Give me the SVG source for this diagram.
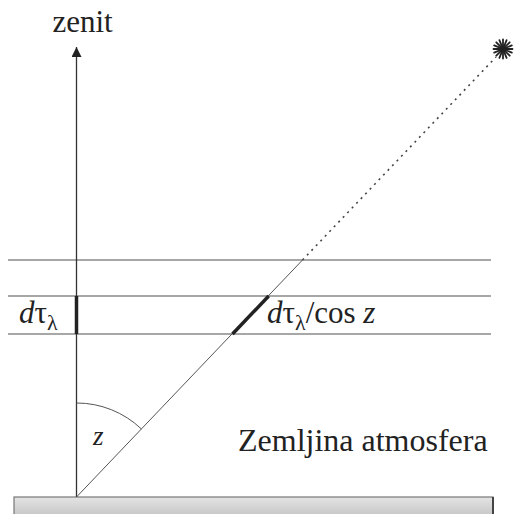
<svg xmlns="http://www.w3.org/2000/svg" width="514" height="514" viewBox="0 0 514 514">
<style>
text{font-family:'Liberation Serif','Times New Roman',serif;fill:#222}
.i{font-style:italic}
.h{stroke:#8a8a8a;stroke-width:1.3;fill:none}
.thin{stroke:#555;stroke-width:1;fill:none}
.thick{stroke:#222;stroke-width:3.5;fill:none}
</style>
<defs>
<linearGradient id="g" x1="0" y1="0" x2="0" y2="1">
<stop offset="0" stop-color="#e4e4e4"/>
<stop offset="1" stop-color="#c4c4c4"/>
</linearGradient>
<marker id="arr" viewBox="0 0 10 10" refX="10" refY="5" markerWidth="10" markerHeight="10" markerUnits="userSpaceOnUse" orient="auto">
<path d="M0,0 L10,5 L0,10 Z" fill="#222"/>
</marker>
</defs>
<g id="ground">
<rect x="14" y="497" width="479" height="20" fill="url(#g)" stroke="#777" stroke-width="1.2"/>
<line x1="493" y1="497" x2="493" y2="514" stroke="#444" stroke-width="2"/>
</g>
<g id="layers">
<line class="h" x1="8" y1="260" x2="491" y2="260"/>
<line class="h" x1="8" y1="296" x2="491" y2="296"/>
<line class="h" x1="8" y1="334" x2="491" y2="334"/>
</g>
<g id="connectors">
<line id="zenith-axis" x1="76.5" y1="497" x2="76.5" y2="47" stroke="#333" stroke-width="1.3" marker-end="url(#arr)"/>
<line id="ray" class="thin" x1="76.5" y1="497" x2="302.5" y2="260"/>
<line id="ray-dotted" x1="302.5" y1="260" x2="496" y2="57" stroke="#444" stroke-width="1.6" stroke-dasharray="2 4.5"/>
<line class="thick" x1="76.5" y1="296" x2="76.5" y2="334"/>
<line class="thick" x1="268.7" y1="296" x2="232.5" y2="334"/>
<path id="angle" class="thin" d="M76.5,403 A94,94 0 0 1 141.4,429"/>
</g>
<g id="star" stroke="#222" stroke-width="1.8" stroke-linecap="round">
<line x1="503" y1="39.5" x2="503" y2="58.5"/>
<line x1="493.5" y1="49" x2="512.5" y2="49"/>
<line x1="496.3" y1="42.3" x2="509.7" y2="55.7"/>
<line x1="496.3" y1="55.7" x2="509.7" y2="42.3"/>
<line x1="499.4" y1="40.2" x2="506.6" y2="57.8"/>
<line x1="506.6" y1="40.2" x2="499.4" y2="57.8"/>
<line x1="494.2" y1="45.4" x2="511.8" y2="52.6"/>
<line x1="494.2" y1="52.6" x2="511.8" y2="45.4"/>
</g>
<g id="labels">
<text x="82.5" y="31.5" font-family="Liberation Serif, serif" font-size="31" text-anchor="middle">zenit</text>
<text x="19" y="323" font-family="Liberation Serif, serif" font-size="31"><tspan class="i">d</tspan>τ<tspan font-size="22" dy="7">λ</tspan></text>
<text x="267" y="323" font-family="Liberation Serif, serif" font-size="31"><tspan class="i">d</tspan>τ<tspan font-size="22" dy="7">λ</tspan><tspan dy="-7">/cos </tspan><tspan class="i">z</tspan></text>
<text class="i" x="93" y="445" font-family="Liberation Serif, serif" font-size="27">z</text>
<text x="238" y="451" font-family="Liberation Serif, serif" font-size="32">Zemljina atmosfera</text>
</g>
</svg>
